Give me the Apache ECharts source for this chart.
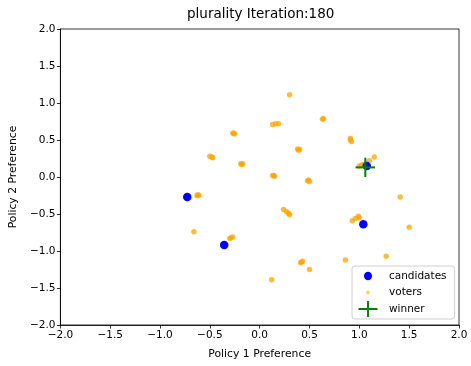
<!DOCTYPE html>
<html>
<head>
<meta charset="utf-8">
<script src="https://cdn.jsdelivr.net/npm/echarts@6/dist/echarts.min.js"></script>
<style>
  html, body { margin: 0; padding: 0; background: #fff; }
  #chart { width: 471px; height: 366px; }
</style>
</head>
<body>
<div id="chart"></div>
<script>
// candidate positions
const candidateX = [-0.727, -0.356, 1.04, 1.075]
const candidateY = [-0.27, -0.92, -0.64, 0.15]

// winner marker
const winnerX = [1.06]
const winnerY = [0.13]

// voter positions (clusters are several overlapping voters)
const voterX = [
  -0.26, -0.25, -0.27,
  -0.50, -0.48, -0.47,
  -0.19, -0.17, -0.18,
  -0.62, -0.63, -0.61,
  0.13, 0.16, 0.19,
  0.64, 0.63,
  0.38, 0.40, 0.39,
  0.91, 0.92, 0.91,
  0.14, 0.15, 0.13,
  0.49, 0.50, 0.48,
  1.02, 1.04, 1.00,
  0.24, 0.27, 0.30, 0.29,
  0.93, 0.96, 0.99, 1.00,
  -0.29, -0.27, -0.30,
  0.42, 0.41, 0.43,
  0.30, 1.10, 1.15, 1.41, 1.50, -0.66, 0.50, 0.12, 0.86, 1.27,
]
const voterY = [
  0.59, 0.58, 0.59,
  0.28, 0.27, 0.26,
  0.18, 0.18, 0.17,
  -0.24, -0.25, -0.25,
  0.71, 0.72, 0.72,
  0.79, 0.78,
  0.38, 0.37, 0.36,
  0.52, 0.48, 0.50,
  0.02, 0.01, 0.02,
  -0.04, -0.06, -0.05,
  0.16, 0.17, 0.15,
  -0.44, -0.47, -0.51, -0.49,
  -0.59, -0.56, -0.53, -0.55,
  -0.82, -0.81, -0.83,
  -1.15, -1.16, -1.14,
  1.11, 0.22, 0.27, -0.27, -0.68, -0.74, -1.25, -1.39, -1.12, -1.07,
]

const axisTicks = { min: -2, max: 2, interval: 0.5 }

const zip = (xs, ys) => xs.map((x, i) => [x, ys[i]])
const fmt = (v) => v.toFixed(1).replace('-', '\u2212')
const FONT = 'DejaVu Sans'

const svg = (w, h, body) => 'image://data:image/svg+xml;utf8,' + encodeURIComponent(
  `<svg xmlns="http://www.w3.org/2000/svg" width="${w}" height="${h}" viewBox="0 0 ${w} ${h}">${body}</svg>`)

const plusSymbol = svg(20, 20,
  '<rect x="9" y="0" width="2" height="20" fill="#008000"/><rect x="0" y="9" width="20" height="2" fill="#008000"/>')
const candIcon = svg(20, 16.5, '<circle cx="10" cy="8.25" r="4.2" fill="#0000ff"/>')
const voterIcon = svg(20, 16.5, '<circle cx="10" cy="8.25" r="2" fill="#ffa500" fill-opacity="0.75"/>')
const winnerIcon = svg(20, 16.5,
  '<rect x="9" y="0" width="2" height="16.5" fill="#008000"/><rect x="0" y="7.25" width="20" height="2" fill="#008000"/>')

function makeAxis(name, isY) {
  return {
    type: 'value',
    min: axisTicks.min,
    max: axisTicks.max,
    interval: axisTicks.interval,
    name: name,
    nameLocation: 'middle',
    nameGap: isY ? 36 : 24,
    nameTextStyle: { color: '#000', fontSize: 10.8, fontFamily: FONT },
    axisLine: { show: true, onZero: false, lineStyle: { color: '#000', width: 0.8 } },
    axisTick: { show: true, length: 3.5, lineStyle: { color: '#000', width: 0.8 } },
    axisLabel: { color: '#000', fontSize: 10.5, fontFamily: FONT, margin: 5, formatter: fmt },
    splitLine: { show: false },
  }
}

const chart = echarts.init(document.getElementById('chart'))
chart.setOption({
  animation: false,
  backgroundColor: '#fff',
  title: {
    text: 'plurality Iteration:180',
    left: 187,
    top: 7,
    padding: 0,
    textStyle: { color: '#000', fontSize: 13.5, fontWeight: 'normal', fontFamily: FONT },
  },
  grid: {
    left: 60, right: 12, top: 29, bottom: 41,
    show: true, borderColor: '#000', borderWidth: 0.8,
  },
  xAxis: makeAxis('Policy 1 Preference', false),
  yAxis: makeAxis('Policy 2 Preference', true),
  legend: {
    orient: 'vertical',
    left: 352,
    top: 266,
    padding: [1.75, 8, 1.75, 6],
    itemGap: 0,
    itemWidth: 20,
    itemHeight: 16.5,
    borderColor: '#d0d0d0',
    borderWidth: 1,
    borderRadius: 3,
    backgroundColor: 'rgba(255,255,255,0.85)',
    textStyle: { color: '#000', fontSize: 10.5, fontFamily: FONT, padding: [0, 0, 0, 6] },
    data: [
      { name: 'candidates', icon: candIcon },
      { name: 'voters', icon: voterIcon },
      { name: 'winner', icon: winnerIcon },
    ],
  },
  series: [
    {
      name: 'voters',
      type: 'scatter',
      symbol: 'circle',
      symbolSize: 5.5,
      itemStyle: { color: '#ffa500', opacity: 0.75 },
      data: zip(voterX, voterY),
      z: 2,
    },
    {
      name: 'candidates',
      type: 'scatter',
      symbol: 'circle',
      symbolSize: 8.5,
      itemStyle: { color: '#0000ff', opacity: 1 },
      data: zip(candidateX, candidateY),
      z: 3,
    },
    {
      name: 'winner',
      type: 'scatter',
      symbol: plusSymbol,
      symbolSize: 20,
      itemStyle: { color: '#008000', opacity: 1 },
      data: zip(winnerX, winnerY),
      z: 4,
    },
  ],
})
</script>
</body>
</html>
